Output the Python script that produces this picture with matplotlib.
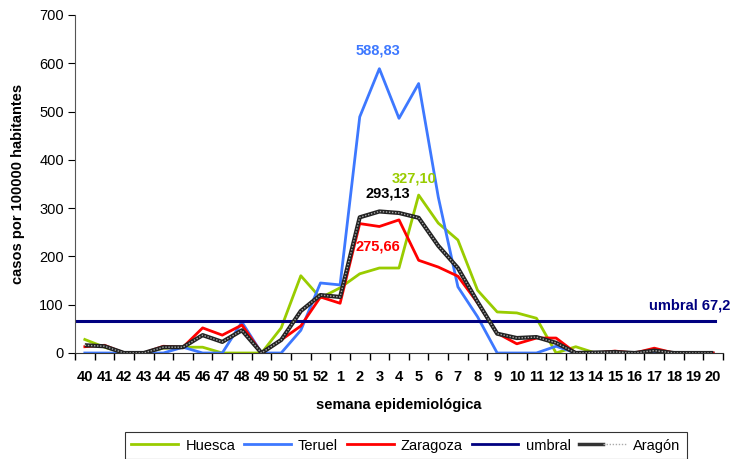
import matplotlib
matplotlib.use("Agg")
import matplotlib.pyplot as plt
from matplotlib.legend_handler import HandlerTuple
from matplotlib.lines import Line2D

plt.rcParams['font.family'] = ['Liberation Sans', 'DejaVu Sans']

weeks = ['40', '41', '42', '43', '44', '45', '46', '47', '48', '49', '50', '51', '52',
         '1', '2', '3', '4', '5', '6', '7', '8', '9', '10', '11', '12', '13', '14',
         '15', '16', '17', '18', '19', '20']

huesca = [28, 12, 0, 0, 10, 12, 12, 0, 0, 0, 52, 160, 114,
          135, 164, 176, 176, 327.10, 269, 234, 130, 85, 83, 72, 0, 13, 0,
          0, 0, 0, 0, 0, 0]
teruel = [0, 0, 0, 0, 0, 12, 0, 0, 64, 0, 0, 47, 145,
          141, 489, 588.83, 486, 558, 323, 137, 75, 0, 0, 0, 14, 0, 0,
          0, 0, 0, 0, 0, 0]
zaragoza = [13, 16, 0, 0, 14, 12, 52, 37, 58, 0, 27, 56, 116,
            103, 268, 262, 275.66, 192, 178, 159, 104, 41, 19, 31, 31, 0, 0,
            4, 0, 10, 0, 0, 0]
aragon = [16, 14, 0, 0, 12, 12, 37, 23, 47, 0, 27, 87, 120,
          116, 281, 293.13, 290, 280, 222, 176, 106, 40, 31, 33, 21, 0, 1,
          2, 0, 5, 0, 0, 0]
umbral = 67.2

c_hue = '#99CC00'
c_ter = '#3D78FF'
c_zar = '#FF0000'
c_umb = '#000080'
c_ara = '#000000'

fig = plt.figure(figsize=(7.34, 4.59), dpi=100)
ax = fig.add_axes([75/734, 1-353/459, (723-75)/734, (353-15)/459])

x = list(range(len(weeks)))
ax.plot(x, huesca, color=c_hue, lw=2)
ax.plot(x, teruel, color=c_ter, lw=2)
ax.plot(x, zaragoza, color=c_zar, lw=2)
ax.axhline(umbral, xmin=0, xmax=0.988, color=c_umb, lw=2.2)
ax.plot(x, aragon, color='#222222', lw=3.0, solid_capstyle='butt')
ax.plot(x, aragon, color='#aaaaaa', lw=1.0, ls=(0, (1, 1.2)))

ax.set_xlim(-0.5, len(weeks) - 0.5)
ax.set_ylim(0, 700)
ax.set_yticks(range(0, 701, 100))
ax.set_xticks([i - 0.5 for i in range(len(weeks) + 1)])
ax.set_xticklabels([])
ax.set_xticks(x, minor=True)
ax.set_xticklabels(weeks, minor=True, fontweight='bold', fontsize=10.5)
ax.tick_params(axis='x', which='major', length=5, direction='out', width=1)
ax.tick_params(axis='x', which='minor', length=0, pad=12)
ax.tick_params(axis='y', length=5, direction='out', labelsize=10.5, pad=3)
for s in ['top', 'right']:
    ax.spines[s].set_visible(False)
ax.spines['left'].set_color('#555555')
ax.spines['bottom'].set_color('#333333')

ax.set_ylabel('casos por 100000 habitantes', fontweight='bold', fontsize=10.5, labelpad=10)
ax.set_xlabel('semana epidemiológica', fontweight='bold', fontsize=10.5, labelpad=10)

def fmt(v):
    return f"{v:.2f}".replace('.', ',')

def peak_label(series, color, dx, dy):
    i = max(range(len(series)), key=lambda k: series[k])
    ax.annotate(fmt(series[i]), (i, series[i]), xytext=(dx, dy), textcoords='offset points',
                ha='center', va='center', color=color, fontweight='bold', fontsize=10.5)

peak_label(teruel, c_ter, -1, 13)
peak_label(huesca, c_hue, -3, 12)
peak_label(aragon, c_ara, 6, 13)
peak_label(zaragoza, c_zar, -15, -19)
ax.annotate(f"umbral {umbral:.1f}".replace('.', ','), (len(weeks) - 1, umbral),
            xytext=(-17, 11), textcoords='offset points', ha='center', va='center',
            color=c_umb, fontweight='bold', fontsize=10.5)

h_hue = Line2D([], [], color=c_hue, lw=2)
h_ter = Line2D([], [], color=c_ter, lw=2)
h_zar = Line2D([], [], color=c_zar, lw=2)
h_umb = Line2D([], [], color=c_umb, lw=2)
h_ara1 = Line2D([], [], color='#333333', lw=2.5)
h_ara2 = Line2D([], [], color='#aaaaaa', lw=1, ls=(0, (1, 1.2)))
leg = fig.legend([h_hue, h_ter, h_zar, h_umb, (h_ara1, h_ara2)],
                 ['Huesca', 'Teruel', 'Zaragoza', 'umbral', 'Aragón'],
                 handler_map={tuple: HandlerTuple(ndivide=None, pad=0)},
                 loc='upper center', bbox_to_anchor=(406/734, 1-432/459), ncol=5,
                 fontsize=10.5, frameon=True, fancybox=False, edgecolor='black',
                 handlelength=3.2, handletextpad=0.5, columnspacing=0.6,
                 borderpad=0.45, borderaxespad=0)
leg.get_frame().set_linewidth(0.8)

fig.savefig('out.png', dpi=100)
